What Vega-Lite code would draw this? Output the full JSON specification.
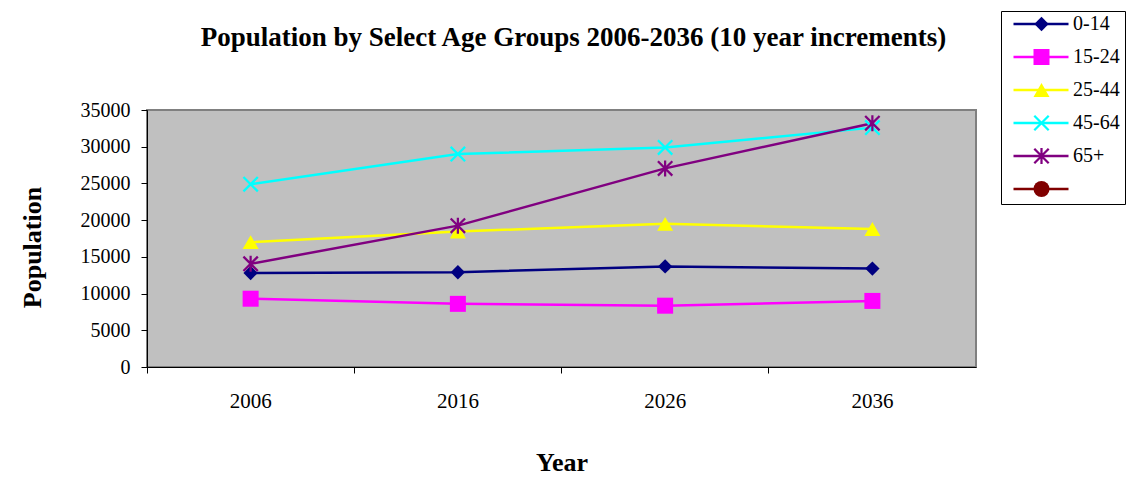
{
  "$schema": "https://vega.github.io/schema/vega-lite/v6.json",
  "autosize": "none",
  "width": 829,
  "height": 257,
  "padding": {"left": 147, "top": 110, "right": 156, "bottom": 118},
  "background": "white",
  "title": {
    "text": "Population by Select Age Groups 2006-2036 (10 year increments)",
    "font": "Liberation Serif",
    "fontSize": 27,
    "fontWeight": "bold",
    "color": "black",
    "anchor": "middle",
    "dx": 12,
    "offset": -41
  },
  "data": {
    "values": [
      {"year": "2006", "group": "0-14", "pop": 12800},
      {"year": "2016", "group": "0-14", "pop": 12900},
      {"year": "2026", "group": "0-14", "pop": 13700},
      {"year": "2036", "group": "0-14", "pop": 13400},
      {"year": "2006", "group": "15-24", "pop": 9300},
      {"year": "2016", "group": "15-24", "pop": 8600},
      {"year": "2026", "group": "15-24", "pop": 8350},
      {"year": "2036", "group": "15-24", "pop": 9000},
      {"year": "2006", "group": "25-44", "pop": 17000},
      {"year": "2016", "group": "25-44", "pop": 18450},
      {"year": "2026", "group": "25-44", "pop": 19500},
      {"year": "2036", "group": "25-44", "pop": 18800},
      {"year": "2006", "group": "45-64", "pop": 24900},
      {"year": "2016", "group": "45-64", "pop": 29000},
      {"year": "2026", "group": "45-64", "pop": 29900},
      {"year": "2036", "group": "45-64", "pop": 32600},
      {"year": "2006", "group": "65+", "pop": 14050},
      {"year": "2016", "group": "65+", "pop": 19250},
      {"year": "2026", "group": "65+", "pop": 27050},
      {"year": "2036", "group": "65+", "pop": 33200}
    ]
  },
  "encoding": {
    "x": {
      "field": "year",
      "type": "ordinal",
      "title": "Year",
      "scale": {"type": "band", "paddingInner": 0, "paddingOuter": 0},
      "axis": {
        "bandPosition": 0,
        "labelAngle": 0,
        "tickSize": 6,
        "labelFontSize": 21,
        "labelPadding": 17,
        "titlePadding": 38
      }
    },
    "y": {
      "field": "pop",
      "type": "quantitative",
      "title": "Population",
      "scale": {"domain": [0, 35000], "nice": false},
      "axis": {
        "values": [0, 5000, 10000, 15000, 20000, 25000, 30000, 35000],
        "format": "d",
        "tickSize": 6,
        "labelFontSize": 20,
        "labelPadding": 11,
        "titlePadding": 35,
        "titleY": 137
      }
    }
  },
  "layer": [
    {
      "mark": {"type": "line", "strokeWidth": 2.5},
      "encoding": {
        "stroke": {
          "field": "group",
          "type": "nominal",
          "scale": {
            "domain": ["0-14", "15-24", "25-44", "45-64", "65+", ""],
            "range": ["#000080", "#FF00FF", "#FFFF00", "#00FFFF", "#800080", "#800000"]
          },
          "legend": {
            "orient": "none",
            "legendX": 854,
            "legendY": -99,
            "title": null,
            "symbolType": "stroke",
            "symbolSize": 3025,
            "symbolStrokeWidth": 2.5,
            "symbolOffset": 6,
            "clipHeight": 16,
            "rowPadding": 13,
            "labelFont": "Liberation Serif",
            "labelFontSize": 20,
            "labelColor": "black",
            "labelOffset": 3,
            "padding": 5,
            "strokeColor": "black",
            "fillColor": "white"
          }
        }
      }
    },
    {
      "mark": {"type": "point", "filled": true, "size": 256, "opacity": 1},
      "encoding": {
        "color": {
          "field": "group",
          "type": "nominal",
          "scale": {
            "domain": ["0-14", "15-24", "25-44", "45-64", "65+", " "],
            "range": ["#000080", "#FF00FF", "#FFFF00", "#00FFFF", "#800080", "#800000"]
          },
          "legend": {
            "orient": "none",
            "legendX": 879.5,
            "legendY": -99,
            "title": null,
            "symbolSize": 256,
            "symbolOpacity": 1,
            "clipHeight": 16,
            "rowPadding": 13,
            "labelExpr": "''",
            "labelFontSize": 20,
            "padding": 5
          }
        },
        "shape": {
          "field": "group",
          "type": "nominal",
          "scale": {
            "domain": ["0-14", "15-24", "25-44", "45-64", "65+", " "],
            "range": [
              "M0,-0.9L0.9,0L0,0.9L-0.9,0Z",
              "square",
              "triangle-up",
              "M-1,-0.8L-0.8,-1L1,0.8L0.8,1ZM1,-0.8L-0.8,1L-1,0.8L0.8,-1Z",
              "M-1,-0.8L-0.8,-1L1,0.8L0.8,1ZM1,-0.8L-0.8,1L-1,0.8L0.8,-1ZM-0.14,-1L0.14,-1L0.14,1L-0.14,1Z",
              "circle"
            ]
          },
          "legend": {
            "orient": "none",
            "legendX": 879.5,
            "legendY": -99,
            "title": null,
            "symbolSize": 256,
            "clipHeight": 16,
            "rowPadding": 13,
            "labelExpr": "''",
            "labelFontSize": 20,
            "padding": 5
          }
        }
      }
    }
  ],
  "config": {
    "view": {"fill": "#C0C0C0", "stroke": "#808080", "strokeWidth": 2},
    "axis": {
      "grid": false,
      "domainColor": "black",
      "domainWidth": 1,
      "tickColor": "black",
      "labelColor": "black",
      "labelFont": "Liberation Serif",
      "titleFont": "Liberation Serif",
      "titleFontSize": 26,
      "titleFontWeight": "bold",
      "titleColor": "black"
    }
  }
}
